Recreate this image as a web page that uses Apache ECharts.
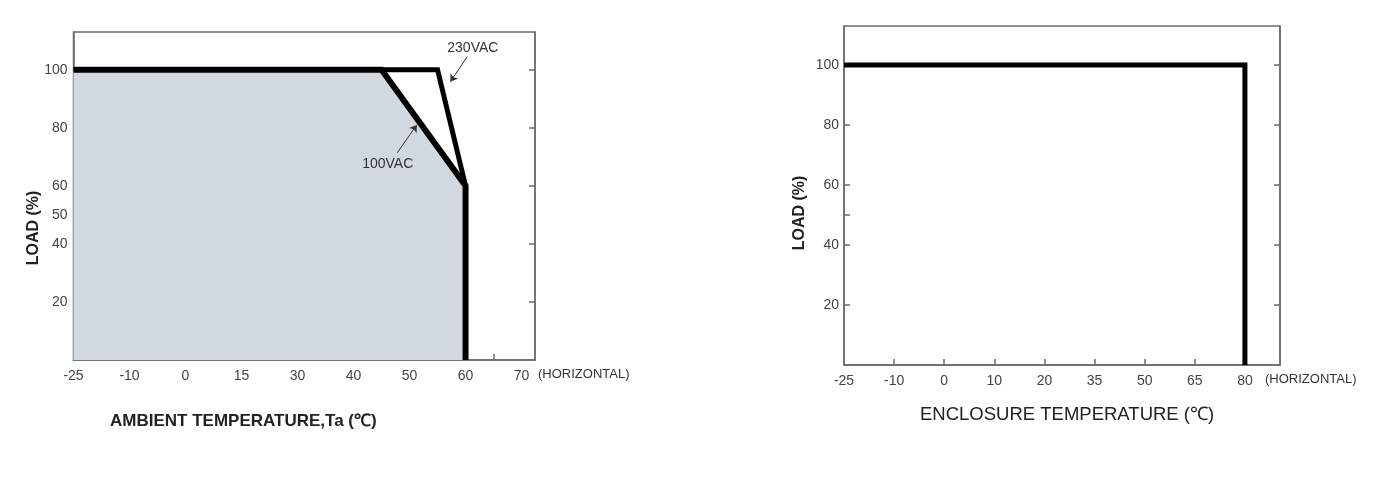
<!DOCTYPE html>
<html><head><meta charset="utf-8">
<script src="https://cdn.jsdelivr.net/npm/echarts@6/dist/echarts.min.js"></script>
<style>html,body{margin:0;padding:0;background:#fff}#c{width:1400px;height:480px}</style>
</head><body><div id="c"></div>
<script>
// ---- data ----
const leftTickTemps = [-25, -10, 0, 15, 30, 40, 50, 60, 70];
const leftExtraTickTemps = [45, 65];
const leftYLabels = [20, 40, 50, 60, 80, 100];
const leftRightTicks = [20, 40, 60, 80, 100];
const vac100Temps = [-25, 45, 60, 60];
const vac100Loads = [100, 100, 60, 0];
const vac230Temps = [45, 55, 60];
const vac230Loads = [100, 100, 60];

const rightTickTemps = [-25, -10, 0, 10, 20, 35, 50, 65, 80];
const rightYLabels = [20, 40, 60, 80, 100];
const rightYTicks = [20, 40, 50, 60, 80, 100];
const enclTemps = [-25, 80, 80];
const enclLoads = [100, 100, 0];

// annotation anchors (temperature, load)
const label230 = { text: '230VAC', at: [61.3, 107.5], from: [60.3, 104.5], to: [57.3, 95.9] };
const label100 = { text: '100VAC', at: [46.1, 67.5], from: [47.8, 71.4], to: [51.3, 81] };

// piecewise axis (tick labels evenly spaced)
function toIdx(t, ticks) {
  for (let i = 0; i < ticks.length - 1; i++) {
    if (t <= ticks[i + 1] || i === ticks.length - 2) {
      return i + (t - ticks[i]) / (ticks[i + 1] - ticks[i]);
    }
  }
}
const pairs = (ts, ls, ticks) => ts.map((t, i) => [toIdx(t, ticks), ls[i]]);
const L = (p) => [toIdx(p[0], leftTickTemps), p[1]];

const FONT = "'Liberation Sans Narrow','Liberation Sans',Arial,sans-serif";
const axisGray = '#6b6b6b';
const labelColor = '#444';

function xAxisDef(gridIndex, ticks, max, extraTicks, name, nameGap) {
  const idx = ticks.map((_, i) => i);
  const tickVals = idx.slice(1, ticks.length - 1).concat(extraTicks.map(t => toIdx(t, ticks)));
  return {
    type: 'value', gridIndex, min: 0, max,
    axisLine: { show: true, lineStyle: { color: axisGray, width: 1.5 } },
    axisTick: { show: true, inside: true, length: 6, customValues: tickVals, lineStyle: { color: axisGray, width: 1.5 } },
    axisLabel: { customValues: idx, formatter: v => String(ticks[Math.round(v)]), color: labelColor, fontFamily: FONT, fontSize: 14, margin: 9 },
    splitLine: { show: false },
    name, nameLocation: 'end', nameGap,
    nameTextStyle: { fontFamily: FONT, fontSize: 13, color: '#333', align: 'left', verticalAlign: 'top', padding: [8, 0, 0, 0] }
  };
}
function yAxisDef(gridIndex, labels, ticks, margin) {
  return {
    type: 'value', gridIndex, min: 0, max: 113,
    axisLine: { show: true, lineStyle: { color: axisGray, width: 1.5 } },
    axisTick: { show: true, inside: true, length: 6, customValues: ticks, lineStyle: { color: axisGray, width: 1.5 } },
    axisLabel: { customValues: labels, color: labelColor, fontFamily: FONT, fontSize: 14, margin },
    splitLine: { show: false }
  };
}
function yRightDef(gridIndex, ticks) {
  return {
    type: 'value', gridIndex, min: 0, max: 113, position: 'right',
    axisLine: { show: true, lineStyle: { color: axisGray, width: 1.5 } },
    axisTick: { show: true, inside: true, length: 6, customValues: ticks, lineStyle: { color: axisGray, width: 1.5 } },
    axisLabel: { show: false }, splitLine: { show: false }
  };
}

const option = {
  animation: false,
  backgroundColor: '#fff',
  grid: [
    { left: 73.5, top: 32, width: 461.5, height: 328, show: true, borderColor: axisGray, borderWidth: 1.5 },
    { left: 844, top: 26, width: 436, height: 339, show: true, borderColor: axisGray, borderWidth: 1.5 }
  ],
  xAxis: [
    xAxisDef(0, leftTickTemps, 8.24, leftExtraTickTemps, '(HORIZONTAL)', 3),
    xAxisDef(1, rightTickTemps, 8.7, [], '(HORIZONTAL)', -15)
  ],
  yAxis: [
    yAxisDef(0, leftYLabels, leftYLabels, 6),
    yRightDef(0, leftRightTicks),
    yAxisDef(1, rightYLabels, rightYTicks, 5),
    yRightDef(1, rightYLabels)
  ],
  graphic: [
    { type: 'text', x: 34, y: 228, rotation: Math.PI / 2, style: { text: 'LOAD (%)', font: "bold 16px " + FONT, fill: '#222', align: 'center', verticalAlign: 'middle' } },
    { type: 'text', x: 800, y: 213, rotation: Math.PI / 2, style: { text: 'LOAD (%)', font: "bold 16px " + FONT, fill: '#222', align: 'center', verticalAlign: 'middle' } },
    { type: 'text', left: 110, top: 413, style: { text: 'AMBIENT TEMPERATURE,Ta (℃)', font: "bold 17px " + FONT, fill: '#222' } },
    { type: 'text', left: 920, top: 405, style: { text: 'ENCLOSURE TEMPERATURE (℃)', font: "18.5px " + FONT, fill: '#222' } }
  ],
  series: [
    {
      type: 'line', xAxisIndex: 0, yAxisIndex: 0, data: pairs(vac100Temps, vac100Loads, leftTickTemps),
      symbol: 'none', lineStyle: { color: '#000', width: 6, join: 'miter' },
      areaStyle: { color: '#d2d8e0', opacity: 1, origin: 'start' }, z: 3
    },
    {
      type: 'line', xAxisIndex: 0, yAxisIndex: 0, data: pairs(vac230Temps, vac230Loads, leftTickTemps),
      symbol: 'none', lineStyle: { color: '#000', width: 5, join: 'miter' }, z: 4,
      markLine: {
        silent: true, symbol: ['none', 'arrow'], symbolSize: 7,
        lineStyle: { color: '#333', width: 1, type: 'solid' }, label: { show: false },
        data: [
          [{ coord: L(label230.from) }, { coord: L(label230.to) }],
          [{ coord: L(label100.from) }, { coord: L(label100.to) }]
        ]
      },
      markPoint: {
        silent: true, symbol: 'circle', symbolSize: 0,
        label: { show: true, position: 'inside', formatter: p => p.name, fontFamily: FONT, fontSize: 14, color: '#333' },
        data: [
          { name: label230.text, coord: L(label230.at) },
          { name: label100.text, coord: L(label100.at) }
        ]
      }
    },
    {
      type: 'line', xAxisIndex: 1, yAxisIndex: 2, data: pairs(enclTemps, enclLoads, rightTickTemps),
      symbol: 'none', lineStyle: { color: '#000', width: 5, join: 'miter' }, z: 3
    }
  ]
};
const chart = echarts.init(document.getElementById('c'));
chart.setOption(option);
</script></body></html>
